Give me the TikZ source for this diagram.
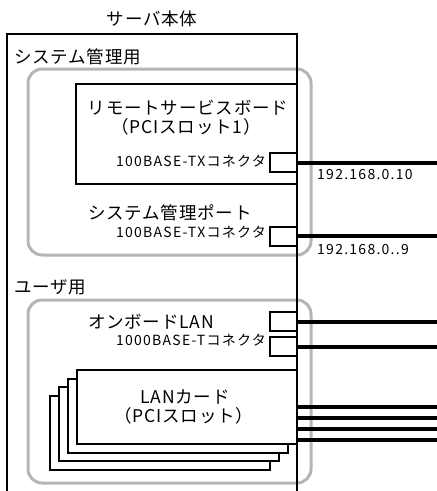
\documentclass[tikz,border=0pt]{standalone}
\usepackage{fontspec}
\setmainfont{Noto Sans CJK JP}[LetterSpace=4.5]
\newfontfamily\smallfnt{Noto Sans CJK JP}[LetterSpace=9]
\usetikzlibrary{positioning}
\definecolor{grpline}{gray}{0.71}
\tikzset{
  chassis/.style={line width=2pt},
  grpbox/.style={draw=grpline,line width=3pt,rounded corners=14pt},
  board/.style={draw,fill=white,line width=2pt,inner sep=0pt},
  port/.style={draw,fill=white,line width=2pt,minimum width=27pt,minimum height=19pt,inner sep=0pt},
  cable/.style={line width=4pt},
  big/.style={font=\fontsize{17.5}{20}\selectfont,inner sep=0pt},
  small/.style={font=\smallfnt\fontsize{14}{16}\selectfont,inner sep=0pt},
}
\begin{document}
\begin{tikzpicture}[x=1pt,y=-1pt]
  \useasboundingbox (0,0) rectangle (437,491);
  % group frames
  \draw[grpbox] (28,69) rectangle (311,255);
  \draw[grpbox] (28,300) rectangle (311,483);
  % server chassis (open at the bottom)
  \draw[chassis] (7,491) -- (7,34) -- (297,34) -- (297,491);
  \node[big] (title) at (152,19) {サーバ本体};
  \node[big,anchor=west] (sysgrp) at (14,57) {システム管理用};
  \node[big,anchor=west] (usrgrp) at (14,287) {ユーザ用};
  % remote service board
  \node[board,minimum width=221pt,minimum height=100pt] (rsb) at (186.5,134) {};
  \node[big] (rsbname) at (188,108) {リモートサービスボード};
  \node[big] (rsbslot) at (186,127) {（PCIスロット1）};
  \node[small,anchor=east] (rsbtx) at (266,161) {100BASE-TXコネクタ};
  \node[port] (p1) at (283.5,162.5) {};
  \coordinate (e1) at (437,162.5);
  \draw[cable] (p1) -- (e1);
  \node[small,anchor=west] (ip1) at (317,175) {192.168.0.10};
  % system management port
  \node[big] (mgmt) at (170,213) {システム管理ポート};
  \node[small,anchor=east] (mgmttx) at (266,232) {100BASE-TXコネクタ};
  \node[port] (p2) at (283.5,236) {};
  \coordinate (e2) at (437,236);
  \draw[cable] (p2) -- (e2);
  \node[small,anchor=west] (ip2) at (317,250) {192.168.0..9};
  % onboard LAN
  \node[big] (onb) at (151,322) {オンボードLAN};
  \node[small,anchor=east] (onbtx) at (266,340) {1000BASE-Tコネクタ};
  \node[port] (p3) at (283.5,321.5) {};
  \node[port] (p4) at (283.5,346.5) {};
  \coordinate (e3) at (437,321.5);
  \coordinate (e4) at (437,346.5);
  \draw[cable] (p3) -- (e3);
  \draw[cable] (p4) -- (e4);
  % LAN cards (stack)
  \foreach \i in {3,2,1}
    \node[board,minimum width=220pt,minimum height=74pt] (card\i) at (187-9*\i,407+8.5*\i) {};
  \node[board,minimum width=220pt,minimum height=74pt] (card) at (187,407) {};
  \node[big] (lanname) at (185,397) {LANカード};
  \node[big] (lanslot) at (184,416) {（PCIスロット）};
  \foreach \y/\n in {407/a,417.5/b,428.5/c,440/d} {
    \coordinate (l\n) at (437,\y);
    \draw[cable] (card.east |- l\n) -- (l\n);
  }
\end{tikzpicture}
\end{document}
